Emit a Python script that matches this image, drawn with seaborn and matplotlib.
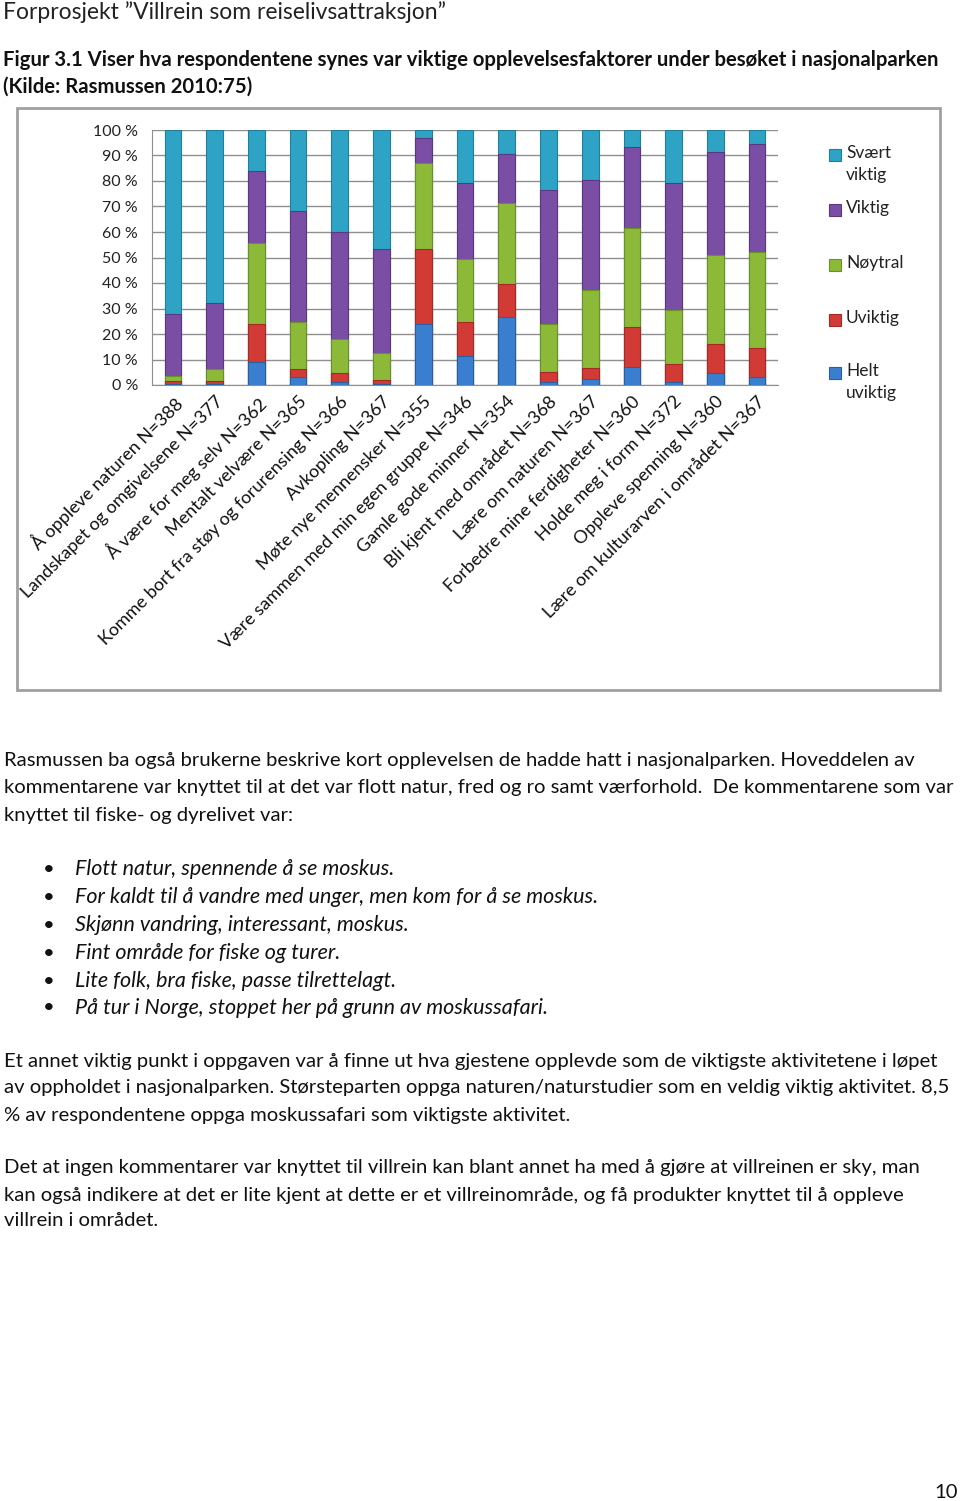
import numpy as np
import pandas as pd
import seaborn as sns
import matplotlib.pyplot as plt
from matplotlib.patches import Rectangle

categories = [
    "Å oppleve naturen N=388",
    "Landskapet og omgivelsene N=377",
    "Å være for meg selv N=362",
    "Mentalt velvære N=365",
    "Komme bort fra støy og forurensing N=366",
    "Avkopling N=367",
    "Møte nye mennensker N=355",
    "Være sammen med min egen gruppe N=346",
    "Gamle gode minner N=354",
    "Bli kjent med området N=368",
    "Lære om naturen N=367",
    "Forbedre mine ferdigheter N=360",
    "Holde meg i form N=372",
    "Oppleve spenning N=360",
    "Lære om kulturarven i området N=367",
]

# percent of respondents per answer
helt_uviktig = [0.5, 0.3, 9.2, 3.0, 1.0, 0.3, 23.8, 11.5, 26.8, 1.3, 2.4, 7.2, 1.3, 4.8, 3.0]
uviktig = [1.0, 1.2, 14.7, 3.3, 3.8, 1.7, 29.4, 13.1, 12.7, 3.9, 4.1, 15.7, 6.8, 11.1, 11.6]
noytral = [2.0, 4.8, 31.9, 18.5, 13.1, 10.7, 33.7, 24.7, 31.7, 18.6, 30.8, 38.5, 21.3, 35.1, 37.4]
viktig = [24.5, 26.0, 28.2, 43.6, 42.2, 40.6, 10.1, 29.8, 19.4, 52.7, 43.1, 31.8, 49.7, 40.2, 42.4]
svaert_viktig = [72.0, 67.7, 16.0, 31.6, 39.9, 46.7, 3.0, 20.9, 9.4, 23.5, 19.6, 6.8, 20.9, 8.8, 5.6]

levels = ["Svært\nviktig", "Viktig", "Nøytral", "Uviktig", "Helt\nuviktig"]
colors = ["#2ea3c6", "#7b4ea6", "#8cba38", "#d23a35", "#3a7fcf"]
edges = ["#1f7f9c", "#5b3780", "#6a9128", "#a52a26", "#2a5f9f"]

df = pd.DataFrame({
    "kategori": categories,
    "Helt uviktig": helt_uviktig,
    "Uviktig": uviktig,
    "Nøytral": noytral,
    "Viktig": viktig,
    "Svært viktig": svaert_viktig,
})
stack_order = ["Helt uviktig", "Uviktig", "Nøytral", "Viktig", "Svært viktig"]
cum = df[stack_order].cumsum(axis=1)

sns.set_style("white")
plt.rcParams["font.family"] = ["Lato", "DejaVu Sans"]

W, H = 960, 1501
fig = plt.figure(figsize=(W / 100, H / 100), dpi=100)


def fx(x):
    return x / W


def fy(y):
    return 1 - y / H


# chart frame
fig.patches.append(Rectangle((fx(17), fy(690)), fx(940 - 17), (690 - 108) / H,
                             transform=fig.transFigure, fill=False,
                             edgecolor="#a0a0a0", linewidth=2))

ax = fig.add_axes([fx(152), fy(385), fx(778 - 152), 255 / H])

# stacked bars: draw cumulative totals from the top layer down
for i, lvl in enumerate(reversed(stack_order)):
    sns.barplot(x=df["kategori"], y=cum[lvl], color=colors[i], width=0.4,
                edgecolor=edges[i], linewidth=0.8, saturation=1, ax=ax, zorder=3)

ax.set_ylim(0, 100)
ax.set_xlim(-0.5, len(categories) - 0.5)
ax.set_yticks(np.arange(0, 101, 10))
ax.set_yticklabels([f"{v} %" for v in range(0, 101, 10)], fontsize=11.5, color="#222222")
ax.yaxis.grid(True, color="#8f8f8f", linewidth=1)
ax.set_axisbelow(True)
ax.set_xlabel("")
ax.set_ylabel("")
for s in ["top", "right"]:
    ax.spines[s].set_visible(False)
ax.spines["left"].set_color("#8f8f8f")
ax.spines["bottom"].set_color("#8f8f8f")
ax.tick_params(axis="y", length=0, pad=10)
ax.set_xticks(np.arange(-0.5, len(categories), 1), minor=True)
ax.tick_params(axis="x", which="minor", length=6, color="#8f8f8f", direction="out")
ax.tick_params(axis="x", which="major", length=0, pad=6)
ax.set_xticks(range(len(categories)))
ax.set_xticklabels(categories, rotation=45, ha="right", rotation_mode="anchor",
                   fontsize=13, color="#111111")

# legend
leg_y = [155, 210, 265, 320, 373]
for lbl, c, e, y in zip(levels, colors, edges, leg_y):
    fig.patches.append(Rectangle((fx(829), fy(y + 6)), fx(12), 12 / H,
                                 transform=fig.transFigure, facecolor=c,
                                 edgecolor=e, linewidth=0.8))
    fig.text(fx(846), fy(y - 10), lbl, fontsize=12.5, va="top", ha="left",
             color="#222222", linespacing=1.45)

# page text
fig.text(fx(3), fy(12), "Forprosjekt ”Villrein som reiselivsattraksjon”",
         fontsize=16.5, va="center", ha="left", color="#222222")
fig.text(fx(3), fy(60),
         "Figur 3.1 Viser hva respondentene synes var viktige opplevelsesfaktorer under besøket i nasjonalparken",
         fontsize=14.6, va="center", ha="left", fontweight="bold", color="#111111")
fig.text(fx(3), fy(87), "(Kilde: Rasmussen 2010:75)",
         fontsize=14.6, va="center", ha="left", fontweight="bold", color="#111111")

body = 14.6
lines = [
    (761, "Rasmussen ba også brukerne beskrive kort opplevelsen de hadde hatt i nasjonalparken. Hoveddelen av"),
    (788, "kommentarene var knyttet til at det var flott natur, fred og ro samt værforhold.  De kommentarene som var"),
    (815, "knyttet til fiske- og dyrelivet var:"),
    (1062, "Et annet viktig punkt i oppgaven var å finne ut hva gjestene opplevde som de viktigste aktivitetene i løpet"),
    (1088, "av oppholdet i nasjonalparken. Størsteparten oppga naturen/naturstudier som en veldig viktig aktivitet. 8,5"),
    (1115, "% av respondentene oppga moskussafari som viktigste aktivitet."),
    (1168, "Det at ingen kommentarer var knyttet til villrein kan blant annet ha med å gjøre at villreinen er sky, man"),
    (1195, "kan også indikere at det er lite kjent at dette er et villreinområde, og få produkter knyttet til å oppleve"),
    (1221, "villrein i området."),
]
for y, t in lines:
    fig.text(fx(4), fy(y), t, fontsize=body, va="center", ha="left", color="#111111")

bullets = [
    (869, "Flott natur, spennende å se moskus."),
    (897, "For kaldt til å vandre med unger, men kom for å se moskus."),
    (925, "Skjønn vandring, interessant, moskus."),
    (953, "Fint område for fiske og turer."),
    (981, "Lite folk, bra fiske, passe tilrettelagt."),
    (1008, "På tur i Norge, stoppet her på grunn av moskussafari."),
]
for y, t in bullets:
    fig.text(fx(43), fy(y), "•", fontsize=body, va="center", ha="left", color="#111111")
    fig.text(fx(75), fy(y), t, fontsize=15.5, va="center", ha="left",
             style="italic", color="#111111")

fig.text(fx(958), fy(1492), "10", fontsize=body, va="center", ha="right", color="#111111")

fig.savefig("out.png", dpi=100, facecolor="white")
